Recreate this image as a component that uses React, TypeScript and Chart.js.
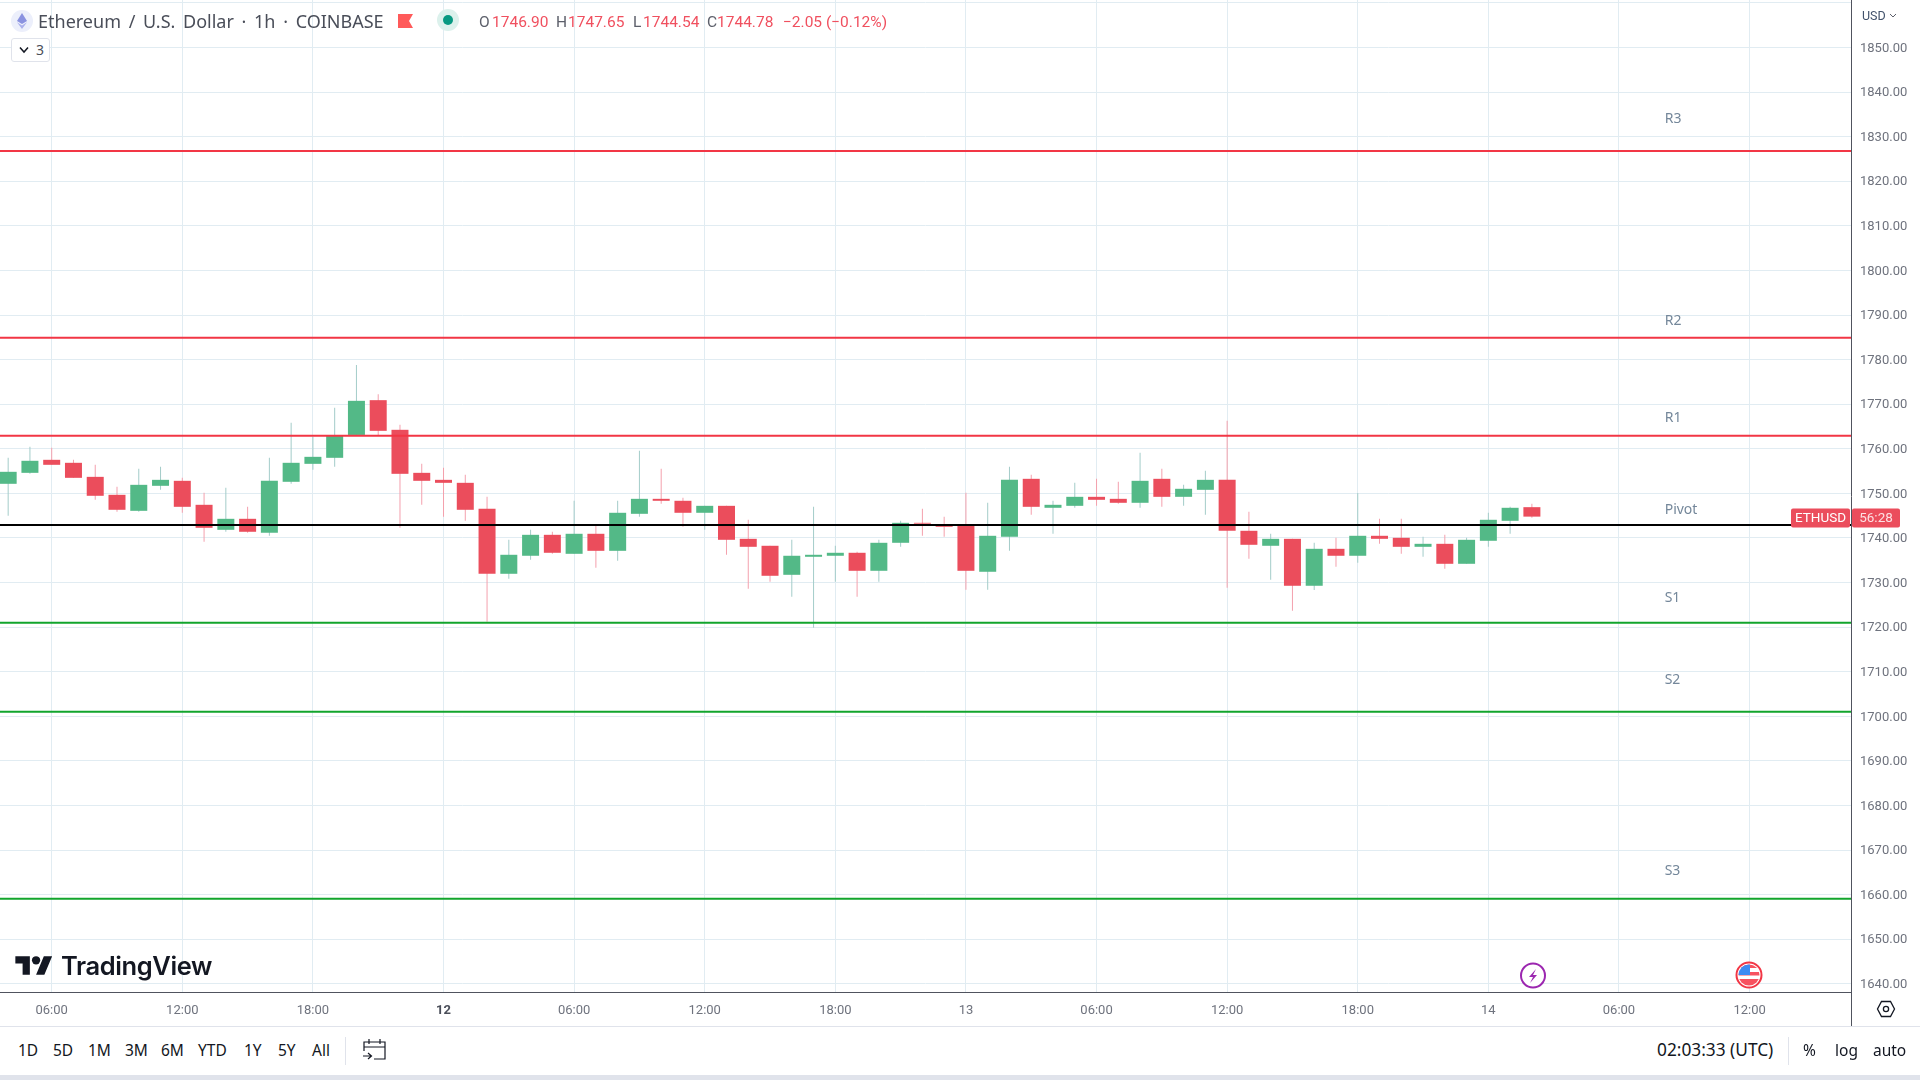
import React, { useEffect, useRef } from "react";
import { Chart, registerables } from "chart.js";

Chart.register(...registerables);

const firstHour = 4;
const opens = [1752.14,1754.6,1757.52,1756.85,1753.7,1749.67,1746.08,1751.69,1752.81,1747.43,1741.82,1744.29,1741.15,1752.59,1756.62,1757.97,1763.1,1770.9,1764.25,1754.6,1753.03,1752.36,1746.53,1731.96,1736,1740.7,1736.44,1740.93,1737.11,1745.41,1748.77,1748.33,1745.64,1747.2,1739.8,1738.24,1731.73,1735.77,1736,1736.67,1732.63,1738.91,1743.39,1743,1742.94,1732.41,1740.25,1753.26,1746.76,1747.2,1749.22,1748.77,1747.88,1753.26,1749.22,1750.79,1753.03,1741.6,1738.24,1739.8,1729.27,1737.56,1736,1740.48,1740.03,1738.01,1738.68,1734.2,1739.36,1743.84,1746.9];
const highs = [1757.97,1760.43,1760.2,1757.52,1756.4,1751.46,1755.5,1755.95,1753.48,1750.12,1751.24,1746.98,1757.97,1765.81,1762.68,1769.18,1778.8,1772.2,1765.37,1756.62,1755.73,1754.16,1749.22,1739.58,1741.82,1741.38,1748.33,1742.72,1748.33,1759.54,1755.5,1749,1747.2,1747.2,1744.07,1738.24,1739.58,1746.98,1738.24,1736.89,1739.58,1743.84,1746.53,1744.74,1750.12,1747.88,1755.95,1754.16,1748.33,1752.36,1753.26,1752.59,1759.09,1755.5,1751.91,1755.05,1766.26,1745.86,1740.93,1739.8,1738.91,1740.03,1750.05,1744.29,1744.29,1740.25,1740.7,1740.03,1745.64,1746.98,1747.65];
const lows = [1744.96,1754.38,1756.4,1753.48,1748.55,1745.86,1745.86,1750.8,1745.64,1739.13,1741.38,1741.15,1740.48,1752.14,1755.28,1755.95,1763.1,1763.1,1742.27,1747.43,1744.74,1743.84,1721.2,1730.84,1735.1,1736.44,1736.44,1733.3,1734.87,1744.74,1747.65,1742.5,1741.82,1736.22,1728.6,1730.16,1726.8,1719.85,1730.16,1726.8,1730.16,1738.01,1740.48,1740.25,1728.37,1728.37,1737.11,1745.19,1740.93,1746.76,1747.2,1747.65,1746.76,1746.98,1747.2,1745.19,1728.82,1735.32,1730.61,1723.66,1728.34,1733.53,1734.42,1738.68,1736.44,1735.77,1733.08,1734.2,1738.01,1740.93,1744.54];
const closes = [1754.83,1757.3,1756.4,1753.48,1749.45,1746.31,1751.91,1753.03,1746.98,1742.27,1744.29,1741.38,1752.81,1756.85,1758.19,1762.9,1770.75,1764.02,1754.38,1752.81,1752.36,1746.31,1731.96,1736.22,1740.7,1736.67,1740.93,1737.11,1745.64,1748.77,1748.33,1745.64,1747.2,1739.58,1738.01,1731.51,1736,1736.22,1736.67,1732.63,1738.91,1743.39,1743.2,1742.5,1732.63,1740.48,1753.03,1746.98,1747.43,1749.22,1748.55,1747.88,1752.81,1749.22,1751.02,1753.03,1741.6,1738.46,1739.8,1729.27,1737.56,1736,1740.48,1739.8,1738.01,1738.68,1734.2,1739.58,1744.07,1746.76,1744.78];

const levelNames = ["R3", "R2", "R1", "Pivot", "S1", "S2", "S3"];
const levelPrices = [1826.8, 1784.9, 1762.9, 1742.9, 1720.96, 1701, 1659.1];
const levelColors = ["#f23645", "#f23645", "#f23645", "#000000", "#12a52c", "#12a52c", "#12a52c"];
const levelLabelPrices = [1833.96, 1788.7, 1766.9, 1746.3, 1726.6, 1708.2, 1665.2];
const levelLabelHour = 80.1;

const priceTicks = [1860,1850,1840,1830,1820,1810,1800,1790,1780,1770,1760,1750,1740,1730,1720,1710,1700,1690,1680,1670,1660,1650,1640];
const timeTickHours = [6,12,18,24,30,36,42,48,54,60,66,72,78,84];
const timeTickLabels = ["06:00","12:00","18:00","12","06:00","12:00","18:00","13","06:00","12:00","18:00","14","06:00","12:00"];
const boldHours = [24];

const hourMin = 3.625;
const hourMax = 88.66;
const priceMin = 1638.16;
const priceMax = 1860.65;

const rangeButtons = ["1D", "5D", "1M", "3M", "6M", "YTD", "1Y", "5Y", "All"];
const rangeLefts = [18, 53, 88, 125, 161, 198, 244, 278, 312];

const UP = "#53b987";
const DOWN = "#eb4d5c";
const UP_WICK = "#a3ccc9";
const DOWN_WICK = "#f4a0ad";
const FONT = "'Noto Sans', sans-serif";
const AXIS_FONT = "Roboto, sans-serif";

const overlayPlugin = {
  id: "overlay",
  afterDatasetsDraw(chart: any) {
    const { ctx } = chart;
    const xs = chart.scales.x;
    const ys = chart.scales.y;
    ctx.save();
    ctx.font = "14px " + FONT;
    ctx.fillStyle = "#74879a";
    ctx.textBaseline = "middle";
    ctx.textAlign = "left";
    levelNames.forEach((n, i) => {
      ctx.fillText(n, xs.getPixelForValue(levelLabelHour), ys.getPixelForValue(levelLabelPrices[i]));
    });
    ctx.restore();
  },
  afterDraw(chart: any) {
    const { ctx } = chart;
    const ys = chart.scales.y;
    const cy = ys.getPixelForValue(closes[closes.length - 1]) + 1.5;
    ctx.save();
    ctx.fillStyle = DOWN;
    ctx.beginPath();
    ctx.roundRect(1791, cy - 9.5, 59, 19, 2);
    ctx.roundRect(1852, cy - 9.5, 48, 19, 2);
    ctx.fill();
    ctx.font = "13.5px " + AXIS_FONT;
    ctx.textBaseline = "middle";
    ctx.textAlign = "center";
    ctx.fillStyle = "#ffffff";
    ctx.fillText("ETHUSD", 1820.5, cy + 0.5);
    ctx.fillStyle = "#fde0e3";
    ctx.fillText("56:28", 1876, cy + 0.5);
    ctx.restore();
  },
};

const abs = (o: React.CSSProperties): React.CSSProperties => ({ position: "absolute", whiteSpace: "nowrap", ...o });

const zeroPadding = (s: any) => {
  s.paddingTop = 0;
  s.paddingBottom = 0;
  s.paddingLeft = 0;
  s.paddingRight = 0;
};

export default function App() {
  const ref = useRef<HTMLCanvasElement | null>(null);
  useEffect(() => {
    if (!ref.current) return;
    const hours = opens.map((_, i) => firstHour + i);
    const isUp = opens.map((o, i) => closes[i] >= o);
    const chart = new Chart(ref.current, {
      type: "bar",
      plugins: [overlayPlugin],
      data: {
        datasets: [
          ...levelPrices.map((p, i) => ({
            type: "line" as const,
            label: levelNames[i],
            data: [{ x: hourMin, y: p }, { x: hourMax, y: p }],
            borderColor: levelColors[i],
            borderWidth: 2,
            pointRadius: 0,
            order: 0,
          })),
          {
            type: "bar" as const,
            label: "body",
            data: hours.map((h, i) => ({ x: h, y: [opens[i], closes[i]] })),
            backgroundColor: isUp.map((u) => (u ? UP : DOWN)),
            barThickness: 17,
            grouped: false,
            inflateAmount: 0,
            borderWidth: 0,
            order: 1,
          },
          {
            type: "bar" as const,
            label: "wick",
            data: hours.map((h, i) => ({ x: h, y: [lows[i], highs[i]] })),
            backgroundColor: isUp.map((u) => (u ? UP_WICK : DOWN_WICK)),
            barThickness: 1,
            grouped: false,
            inflateAmount: 0,
            borderWidth: 0,
            order: 2,
          },
        ] as any,
      },
      options: {
        responsive: false,
        animation: false,
        layout: { padding: 0 },
        plugins: { legend: { display: false }, tooltip: { enabled: false } },
        scales: {
          x: {
            type: "linear",
            offset: false,
            min: hourMin,
            max: hourMax,
            afterBuildTicks: (s: any) => { s.ticks = timeTickHours.map((value) => ({ value })); },
            afterFit: (s: any) => { s.height = 35; zeroPadding(s); },
            grid: { color: "#e1ecf2", drawTicks: false, lineWidth: 1, offset: false },
            border: { color: "#50535e", width: 1 },
            ticks: {
              autoSkip: false,
              maxRotation: 0,
              padding: 11,
              color: (c: any) => (boldHours.includes(c.tick?.value) ? "#4a4e59" : "#6f737e"),
              font: (c: any) => ({ family: AXIS_FONT, size: 13, weight: boldHours.includes(c.tick?.value) ? "bold" : "normal" }),
              callback: (v: any) => timeTickLabels[timeTickHours.indexOf(Number(v))] ?? "",
            },
          },
          y: {
            type: "linear",
            position: "right",
            min: priceMin,
            max: priceMax,
            afterBuildTicks: (s: any) => { s.ticks = priceTicks.map((value) => ({ value })); },
            afterFit: (s: any) => { s.width = 69; zeroPadding(s); },
            grid: { color: "#e1ecf2", drawTicks: false, lineWidth: 1 },
            border: { color: "#50535e", width: 1 },
            ticks: {
              autoSkip: false,
              padding: 9,
              labelOffset: 1,
              color: "#6f737e",
              font: { family: AXIS_FONT, size: 13 },
              callback: (v: any) => (Number(v) >= 1860 ? "" : Number(v).toFixed(2)),
            },
          },
        },
      },
    } as any);
    return () => chart.destroy();
  }, []);

  const legendRed = "#f0505f";
  const legendGray = "#5d606b";
  return (
    <div style={{ position: "fixed", inset: 0, background: "#fff", overflow: "hidden", fontFamily: FONT, color: "#131722" }}>
      <canvas ref={ref} width={1920} height={1027} style={{ position: "absolute", left: 0, top: 0, width: 1920, height: 1027 }} />

      {/* legend header */}
      <svg style={abs({ left: 11, top: 10 })} width={22} height={22} viewBox="0 0 22 22">
        <circle cx={11} cy={11} r={11} fill="#eceffb" />
        <path d="M11 3 L16 11 L11 14 L6 11 Z" fill="#8a92e0" />
        <path d="M11 15.5 L16 12.3 L11 19 L6 12.3 Z" fill="#aab0ec" />
      </svg>
      <div style={abs({ left: 38, top: 9, fontSize: 18, lineHeight: "24px", wordSpacing: 3, color: "#4a4e59" })}>Ethereum / U.S. Dollar · 1h · COINBASE</div>
      <svg style={abs({ left: 398, top: 14 })} width={16} height={14} viewBox="0 0 16 14">
        <path d="M0 0 H15 L11 7 L15 14 H0 Z" fill="#ff5a5a" />
      </svg>
      <svg style={abs({ left: 437, top: 9 })} width={22} height={22} viewBox="0 0 22 22">
        <circle cx={11} cy={11} r={11} fill="#dcf1ec" />
        <circle cx={11} cy={11} r={5} fill="#089981" />
      </svg>
      {([
        ["O", 479, legendGray], ["1746.90", 492, legendRed],
        ["H", 556, legendGray], ["1747.65", 568, legendRed],
        ["L", 633, legendGray], ["1744.54", 643, legendRed],
        ["C", 707, legendGray], ["1744.78", 717, legendRed],
        ["−2.05 (−0.12%)", 783, legendRed],
      ] as [string, number, string][]).map(([t, left, color], i) => (
        <div key={i} style={abs({ left, top: 12, fontSize: 15.5, lineHeight: "20px", color, fontFamily: AXIS_FONT })}>{t}</div>
      ))}
      <div style={abs({ left: 11, top: 38, width: 39, height: 24, boxSizing: "border-box", border: "1px solid #e0e3eb", borderRadius: 3, background: "#fff" })} />
      <svg style={abs({ left: 19, top: 46 })} width={10} height={8} viewBox="0 0 10 8">
        <path d="M1 1.5 L5 6 L9 1.5" fill="none" stroke="#131722" strokeWidth={1.5} />
      </svg>
      <div style={abs({ left: 36, top: 40, fontSize: 14, lineHeight: "20px", color: "#4a4e59" })}>3</div>

      {/* currency */}
      <div style={abs({ left: 1862, top: 8, fontSize: 12.5, lineHeight: "16px", color: "#42526b", fontFamily: AXIS_FONT })}>USD</div>
      <svg style={abs({ left: 1889, top: 13 })} width={8} height={6} viewBox="0 0 8 6">
        <path d="M1 1 L4 4 L7 1" fill="none" stroke="#5d606b" strokeWidth={1} />
      </svg>

      {/* logo */}
      <svg style={abs({ left: 15, top: 952 })} width={38} height={29} viewBox="0 0 36 28">
        <path d="M14 22H7V11H0V4h14v18zM28 22h-8l7.5-18h8L28 22z" fill="#131722" />
        <circle cx={20} cy={8} r={4} fill="#131722" />
      </svg>
      <div style={abs({ left: 61, top: 948, fontSize: 25.5, lineHeight: "36px", fontWeight: 600, fontFamily: "Inter, sans-serif", color: "#131722", letterSpacing: -0.4 })}>TradingView</div>

      {/* event markers */}
      <svg style={abs({ left: 1519, top: 962 })} width={28} height={28} viewBox="0 0 28 28">
        <circle cx={14} cy={13.5} r={12} fill="#fff" stroke="#9c27b0" strokeWidth={2} />
        <path d="M17 7 L10 15 H14 L11 21 L18 13 H14 Z" fill="#9c27b0" />
      </svg>
      <svg style={abs({ left: 1735, top: 961 })} width={28} height={28} viewBox="0 0 28 28">
        <defs><clipPath id="flagc"><circle cx={14} cy={14} r={10.5} /></clipPath></defs>
        <circle cx={14} cy={14} r={12.5} fill="#fff" stroke="#f23645" strokeWidth={2} />
        <g clipPath="url(#flagc)">
          <rect x={3} y={3} width={22} height={4} fill="#f7525f" />
          <rect x={3} y={11} width={22} height={3.5} fill="#f7525f" />
          <rect x={3} y={18} width={22} height={7} fill="#f7525f" />
          <rect x={3} y={3} width={12} height={11} fill="#3d8bf2" />
        </g>
      </svg>

      {/* time axis corner */}
      <div style={abs({ left: 1851, top: 992, width: 1, height: 34, background: "#50535e" })} />
      <svg style={abs({ left: 1876, top: 1000 })} width={20} height={18} viewBox="0 0 20 18">
        <path d="M5.5 1.5 H14.5 L18.5 9 L14.5 16.5 H5.5 L1.5 9 Z" fill="none" stroke="#131722" strokeWidth={1.3} />
        <circle cx={10} cy={9} r={2.6} fill="none" stroke="#131722" strokeWidth={1.3} />
      </svg>

      {/* bottom toolbar */}
      <div style={abs({ left: 0, top: 1026, width: 1920, height: 1, background: "#e0e3eb" })} />
      {rangeButtons.map((t, i) => (
        <div key={t} style={abs({ left: rangeLefts[i], top: 1040, fontSize: 15.5, lineHeight: "20px", color: "#131722" })}>{t}</div>
      ))}
      <div style={abs({ left: 345, top: 1037, width: 1, height: 28, background: "#e0e3eb" })} />
      <svg style={abs({ left: 362, top: 1038 })} width={25} height={24} viewBox="0 0 25 24">
        <path d="M2 13 V4 H23 V21 H12 M2 9 H23 M7 1 V6 M18 1 V6 M1 18 H9 M6 15 L9.5 18 L6 21" fill="none" stroke="#131722" strokeWidth={1.2} />
      </svg>
      <div style={abs({ left: 1657, top: 1040, fontSize: 17.3, lineHeight: "20px", color: "#131722" })}>02:03:33 (UTC)</div>
      <div style={abs({ left: 1788, top: 1037, width: 1, height: 28, background: "#e0e3eb" })} />
      <div style={abs({ left: 1803, top: 1040, fontSize: 15.5, lineHeight: "20px" })}>%</div>
      <div style={abs({ left: 1835, top: 1040, fontSize: 15.5, lineHeight: "20px" })}>log</div>
      <div style={abs({ left: 1873, top: 1040, fontSize: 15.5, lineHeight: "20px" })}>auto</div>
      <div style={abs({ left: 0, top: 1075, width: 1920, height: 5, background: "#e0e3eb" })} />
    </div>
  );
}
